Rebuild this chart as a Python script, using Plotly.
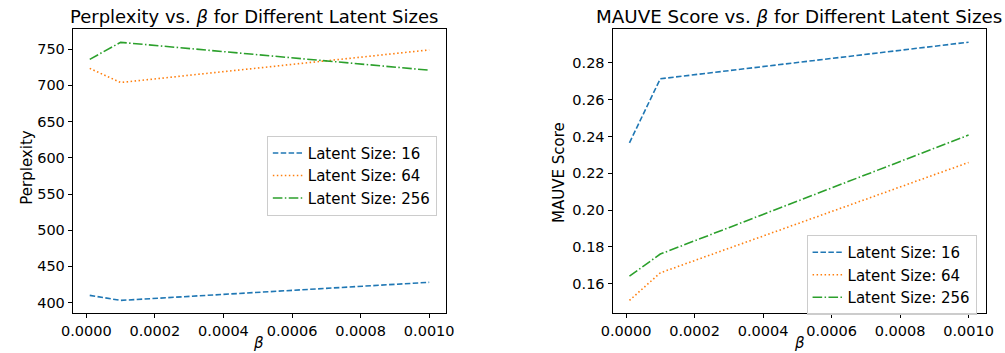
import plotly.graph_objects as go

beta = [0.00001, 0.0001, 0.001]
series_names = ["Latent Size: 16", "Latent Size: 64", "Latent Size: 256"]
perplexity = {
    "Latent Size: 16": [410, 403, 428],
    "Latent Size: 64": [723.5, 704, 749],
    "Latent Size: 256": [736, 759.5, 721],
}
mauve = {
    "Latent Size: 16": [0.2366, 0.2714, 0.2913],
    "Latent Size: 64": [0.1509, 0.1659, 0.2259],
    "Latent Size: 256": [0.1641, 0.1761, 0.2408],
}
colors = ["#1f77b4", "#ff7f0e", "#2ca02c"]
dashes = ["5.5px,2.4px", "1.5px,2.5px", "9.6px,2.4px,1.5px,2.4px"]

W, H = 1005, 353
FONT = "DejaVu Sans"

fig = go.Figure()
for name, c, d in zip(series_names, colors, dashes):
    fig.add_trace(go.Scatter(x=beta, y=perplexity[name], mode="lines", name=name,
                             line=dict(color=c, dash=d, width=1.6),
                             xaxis="x", yaxis="y", legend="legend"))
for name, c, d in zip(series_names, colors, dashes):
    fig.add_trace(go.Scatter(x=beta, y=mauve[name], mode="lines", name=name,
                             line=dict(color=c, dash=d, width=1.6),
                             xaxis="x2", yaxis="y2", legend="legend2"))

def px_x(p):
    return p / W

def px_y(p):
    return 1 - p / H

axis_common = dict(showline=True, linecolor="black", linewidth=1, mirror=True,
                   ticks="outside", ticklen=4, tickcolor="black", showgrid=False,
                   zeroline=False, tickfont=dict(family=FONT, size=14.5, color="black"))

ydom = [px_y(313.3), px_y(29.3)]
fig.update_layout(
    width=W, height=H, margin=dict(l=0, r=0, t=0, b=0),
    plot_bgcolor="white", paper_bgcolor="white",
    font=dict(family=FONT, color="black"),
    xaxis=dict(domain=[px_x(62), px_x(443)], range=[-0.0000395, 0.0010495],
               tickvals=[0, 0.0002, 0.0004, 0.0006, 0.0008, 0.001], tickformat=".4f",
               anchor="y", **axis_common),
    yaxis=dict(domain=ydom, range=[385.2, 777.5], dtick=50, anchor="x", **axis_common),
    xaxis2=dict(domain=[px_x(612.7), px_x(993.3)], range=[-0.0000395, 0.0010495],
                tickvals=[0, 0.0002, 0.0004, 0.0006, 0.0008, 0.001], tickformat=".4f",
                anchor="y2", **axis_common),
    yaxis2=dict(domain=ydom, range=[0.1439, 0.2983], tickvals=[0.16, 0.18, 0.20, 0.22, 0.24, 0.26, 0.28],
                tickformat=".2f", anchor="x2", **axis_common),
    legend=dict(x=px_x(260), y=px_y(135.7), xanchor="left", yanchor="top",
                bgcolor="rgba(255,255,255,0.8)", bordercolor="#cccccc", borderwidth=1,
                font=dict(family=FONT, size=15, color="black")),
    legend2=dict(x=px_x(810.7), y=px_y(235), xanchor="left", yanchor="top",
                 bgcolor="rgba(255,255,255,0.8)", bordercolor="#cccccc", borderwidth=1,
                 font=dict(family=FONT, size=15, color="black")),
)

annots = [
    dict(text="Perplexity vs. <i>β</i> for Different Latent Sizes", x=px_x(247), y=px_y(16.5), size=18),
    dict(text="MAUVE Score vs. <i>β</i> for Different Latent Sizes", x=px_x(803), y=px_y(16.5), size=18.3),
    dict(text="<i>β</i>", x=px_x(252), y=px_y(343), size=15),
    dict(text="<i>β</i>", x=px_x(803), y=px_y(343), size=15),
]
for a in annots:
    fig.add_annotation(text=a["text"], x=a["x"], y=a["y"], xref="paper", yref="paper",
                       xanchor="center", yanchor="middle", showarrow=False,
                       font=dict(family=FONT, size=a["size"], color="black"))
fig.add_annotation(text="Perplexity", x=px_x(15), y=px_y(168), xref="paper", yref="paper",
                   textangle=-90, showarrow=False, xanchor="center", yanchor="middle",
                   font=dict(family=FONT, size=15, color="black"))
fig.add_annotation(text="MAUVE Score", x=px_x(558), y=px_y(172), xref="paper", yref="paper",
                   textangle=-90, showarrow=False, xanchor="center", yanchor="middle",
                   font=dict(family=FONT, size=15, color="black"))

fig.write_html("out.html", config={"displayModeBar": False},
               post_script="document.body.style.margin='0';document.body.style.overflow='hidden';")
